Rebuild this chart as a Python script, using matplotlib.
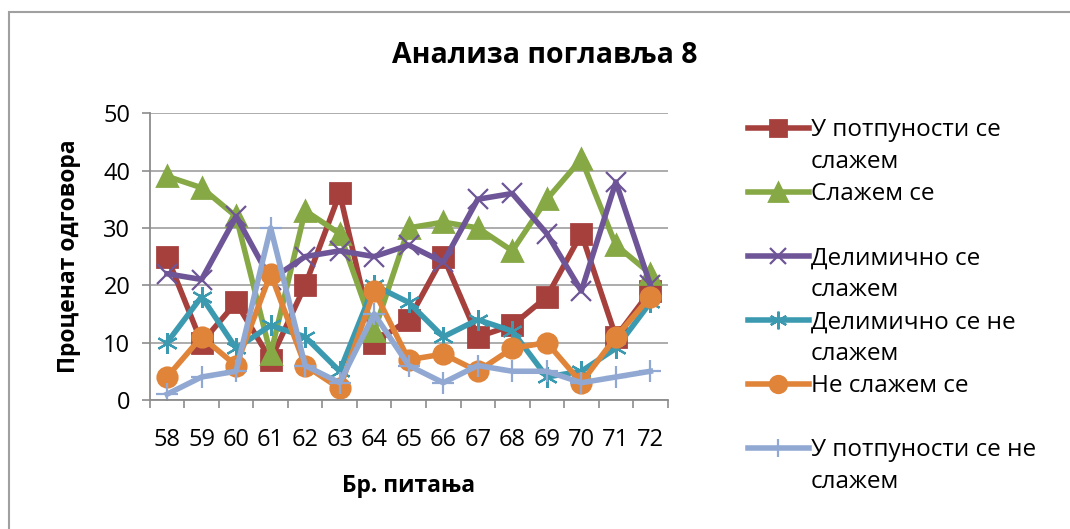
import matplotlib.pyplot as plt
from matplotlib.lines import Line2D
from matplotlib.patches import Rectangle
from matplotlib.ticker import FixedLocator, NullFormatter

plt.rcParams['font.family'] = ['Open Sans', 'DejaVu Sans']

# Бројеви питања и проценти одговора по категорији
pitanja = [58, 59, 60, 61, 62, 63, 64, 65, 66, 67, 68, 69, 70, 71, 72]
potpuno_slazem = [25, 10, 17, 7, 20, 36, 10, 14, 25, 11, 13, 18, 29, 11, 19]
slazem = [39, 37, 32, 8, 33, 29, 12, 30, 31, 30, 26, 35, 42, 27, 22]
delimicno_slazem = [22, 21, 32, 21, 25, 26, 25, 27, 24, 35, 36, 29, 19, 38, 20]
delimicno_ne_slazem = [10, 18, 9, 13, 11, 5, 20, 17, 11, 14, 12, 4, 5, 9, 17]
ne_slazem = [4, 11, 6, 22, 6, 2, 19, 7, 8, 5, 9, 10, 3, 11, 18]
potpuno_ne_slazem = [1, 4, 5, 30, 6, 3, 15, 6, 3, 6, 5, 5, 3, 4, 5]

# назив, вредности, боја, маркер, величина маркера, дебљина ивице маркера
serije = [
    ('У потпуности се\nслажем', potpuno_slazem, '#A5403D', 's', 14, 2),
    ('Слажем се', slazem, '#86A845', '^', 15, 2),
    ('Делимично се\nслажем', delimicno_slazem, '#6E5597', 'x', 14, 1.6),
    ('Делимично се не\nслажем', delimicno_ne_slazem, '#3B9AB0', (6, 2, 0), 15, 1.6),
    ('Не слажем се', ne_slazem, '#E0843A', 'o', 14, 2),
    ('У потпуности се не\nслажем', potpuno_ne_slazem, '#91A9D2', '+', 16, 1.6),
]

fig = plt.figure(figsize=(10.7, 5.29), dpi=100)
ax = fig.add_axes([0.140, 0.244, 0.484, 0.542])

x = list(range(len(pitanja)))
handles = []
labels = []
for naziv, vrednosti, boja, marker, ms, mew in serije:
    ax.plot(x, vrednosti, color=boja, linewidth=4, marker=marker,
            markersize=ms, markeredgewidth=mew, markeredgecolor=boja,
            markerfacecolor=boja, solid_joinstyle='round')
    redovi = naziv.split('\n')
    if len(redovi) == 1:
        redovi.append('')
    handles.append(Line2D([], [], color=boja, linewidth=4, marker=marker,
                          markersize=ms * 0.85, markeredgewidth=mew,
                          markeredgecolor=boja, markerfacecolor=boja))
    labels.append(redovi[0])
    handles.append(Line2D([], [], color='none'))
    labels.append(redovi[1])

ax.set_xlim(-0.5, len(pitanja) - 0.5)
ax.set_ylim(0, 50)
ax.set_yticks(range(0, 51, 10))
ax.set_xticks(x)
ax.set_xticklabels([str(p) for p in pitanja])
ax.xaxis.set_minor_locator(FixedLocator([i - 0.5 for i in range(len(pitanja) + 1)]))
ax.xaxis.set_minor_formatter(NullFormatter())
ax.tick_params(axis='x', which='major', length=0, pad=20, labelsize=17)
ax.tick_params(axis='x', which='minor', length=6, color='#8c8c8c', width=1.2)
ax.tick_params(axis='y', length=6, color='#8c8c8c', width=1.2, labelsize=17, pad=8)

ax.grid(axis='y', color='#a6a6a6', linewidth=1.3)
ax.set_axisbelow(True)
for side in ('top', 'right'):
    ax.spines[side].set_visible(False)
for side in ('left', 'bottom'):
    ax.spines[side].set_color('#8c8c8c')
    ax.spines[side].set_linewidth(1.3)

ax.set_xlabel('Бр. питања', fontsize=16.5, fontweight='bold', labelpad=16)
ax.set_ylabel('Проценат одговора', fontsize=16.5, fontweight='bold', labelpad=16)
fig.text(0.509, 0.896, 'Анализа поглавља 8', fontsize=20.5, fontweight='bold',
         ha='center', va='center')

fig.legend(handles, labels, loc='upper left', bbox_to_anchor=(0.690, 0.795),
           frameon=False, fontsize=17.5, handlelength=2.5, handletextpad=0.08,
           labelspacing=0.33, borderaxespad=0)

# оквир дијаграма
fig.patches.append(Rectangle((9 / 1070, -0.05), 1.1, 1 - 12 / 529 + 0.05,
                             transform=fig.transFigure, fill=False,
                             edgecolor='#a0a0a0', linewidth=1.5))

fig.savefig('out.png', dpi=100)
